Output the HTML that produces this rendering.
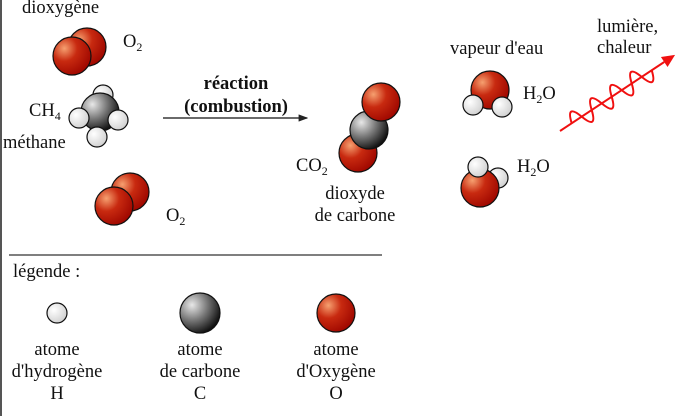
<!DOCTYPE html><html><head><meta charset="utf-8"><style>body{margin:0;background:#fff}svg{display:block}text{font-family:"Liberation Serif",serif;font-size:18.5px;fill:#111}</style></head><body>
<svg width="700" height="416" viewBox="0 0 700 416">
<defs>
<radialGradient id="o" cx="0.3" cy="0.3" r="0.75"><stop offset="0" stop-color="#f6a070"/><stop offset="0.45" stop-color="#c82a10"/><stop offset="1" stop-color="#a00800"/></radialGradient>
<radialGradient id="c" cx="0.3" cy="0.3" r="0.75"><stop offset="0" stop-color="#e8e8e8"/><stop offset="0.5" stop-color="#7a7a7a"/><stop offset="1" stop-color="#111"/></radialGradient>
<radialGradient id="h" cx="0.35" cy="0.35" r="0.7"><stop offset="0" stop-color="#fff"/><stop offset="1" stop-color="#d0d0d0"/></radialGradient>
<marker id="a" markerWidth="8" markerHeight="6" refX="7" refY="3" orient="auto"><path d="M0,0L8,3L0,6z" fill="#222"/></marker>
</defs>
<g stroke="#111" stroke-width="1.2">
<line x1="1" y1="0" x2="1" y2="416" stroke="#555" stroke-width="2"/>
<line x1="9" y1="255" x2="382" y2="255" stroke="#555" stroke-width="1.5"/>
<circle cx="87" cy="47" r="19" fill="url(#o)"/><circle cx="72" cy="56" r="19" fill="url(#o)"/>
<circle cx="103" cy="95" r="10" fill="url(#h)"/>
<circle cx="100" cy="112" r="19" fill="url(#c)"/>
<circle cx="79" cy="118" r="10" fill="url(#h)"/><circle cx="118" cy="120" r="10" fill="url(#h)"/><circle cx="97" cy="137" r="10" fill="url(#h)"/>
<circle cx="130" cy="192" r="19" fill="url(#o)"/><circle cx="114" cy="206" r="19" fill="url(#o)"/>
<circle cx="358" cy="153" r="19" fill="url(#o)"/><circle cx="369" cy="130" r="19" fill="url(#c)"/><circle cx="381" cy="102" r="19" fill="url(#o)"/>
<circle cx="490" cy="90" r="19" fill="url(#o)"/><circle cx="473" cy="105" r="10" fill="url(#h)"/><circle cx="502" cy="107" r="10" fill="url(#h)"/>
<circle cx="498" cy="178" r="10" fill="url(#h)"/><circle cx="480" cy="188" r="19" fill="url(#o)"/><circle cx="478" cy="167" r="10" fill="url(#h)"/>
<circle cx="57" cy="313" r="10" fill="url(#h)"/><circle cx="200" cy="313" r="20" fill="url(#c)"/><circle cx="336" cy="313" r="19" fill="url(#o)"/>
<line x1="163" y1="118" x2="307" y2="118" marker-end="url(#a)"/>
</g>
<g transform="translate(560,131) rotate(-33.5)" fill="none" stroke="#f01010" stroke-width="2">
<line x1="0" y1="0" x2="125" y2="0"/>
<path d="M125,-6 L138,0 L125,6 z" fill="#f01010" stroke="none"/>
<path d="M14,0 Q20,-20 26,0 T38,0 T50,0 T62,0 T74,0 T86,0 T98,0 T110,0"/>
</g>
<text x="22" y="13">dioxygène</text>
<text x="123" y="47">O<tspan font-size="12" dy="4">2</tspan></text>
<text x="29" y="116">CH<tspan font-size="12" dy="4">4</tspan></text>
<text x="3" y="148">méthane</text>
<text x="166" y="221">O<tspan font-size="12" dy="4">2</tspan></text>
<text x="236" y="89" text-anchor="middle" font-weight="bold">réaction</text>
<text x="236" y="112" text-anchor="middle" font-weight="bold">(combustion)</text>
<text x="296" y="171">CO<tspan font-size="12" dy="4">2</tspan></text>
<text x="355" y="199" text-anchor="middle">dioxyde</text>
<text x="355" y="221" text-anchor="middle">de carbone</text>
<text x="450" y="54">vapeur d'eau</text>
<text x="523" y="99">H<tspan font-size="12" dy="4">2</tspan><tspan dy="-4">O</tspan></text>
<text x="517" y="172">H<tspan font-size="12" dy="4">2</tspan><tspan dy="-4">O</tspan></text>
<text x="597" y="32">lumière,</text>
<text x="597" y="53">chaleur</text>
<text x="13" y="277">légende :</text>
<text x="57" y="355" text-anchor="middle">atome</text>
<text x="57" y="377" text-anchor="middle">d'hydrogène</text>
<text x="57" y="399" text-anchor="middle">H</text>
<text x="200" y="355" text-anchor="middle">atome</text>
<text x="200" y="377" text-anchor="middle">de carbone</text>
<text x="200" y="399" text-anchor="middle">C</text>
<text x="336" y="355" text-anchor="middle">atome</text>
<text x="336" y="377" text-anchor="middle">d'Oxygène</text>
<text x="336" y="399" text-anchor="middle">O</text>
</svg></body></html>
